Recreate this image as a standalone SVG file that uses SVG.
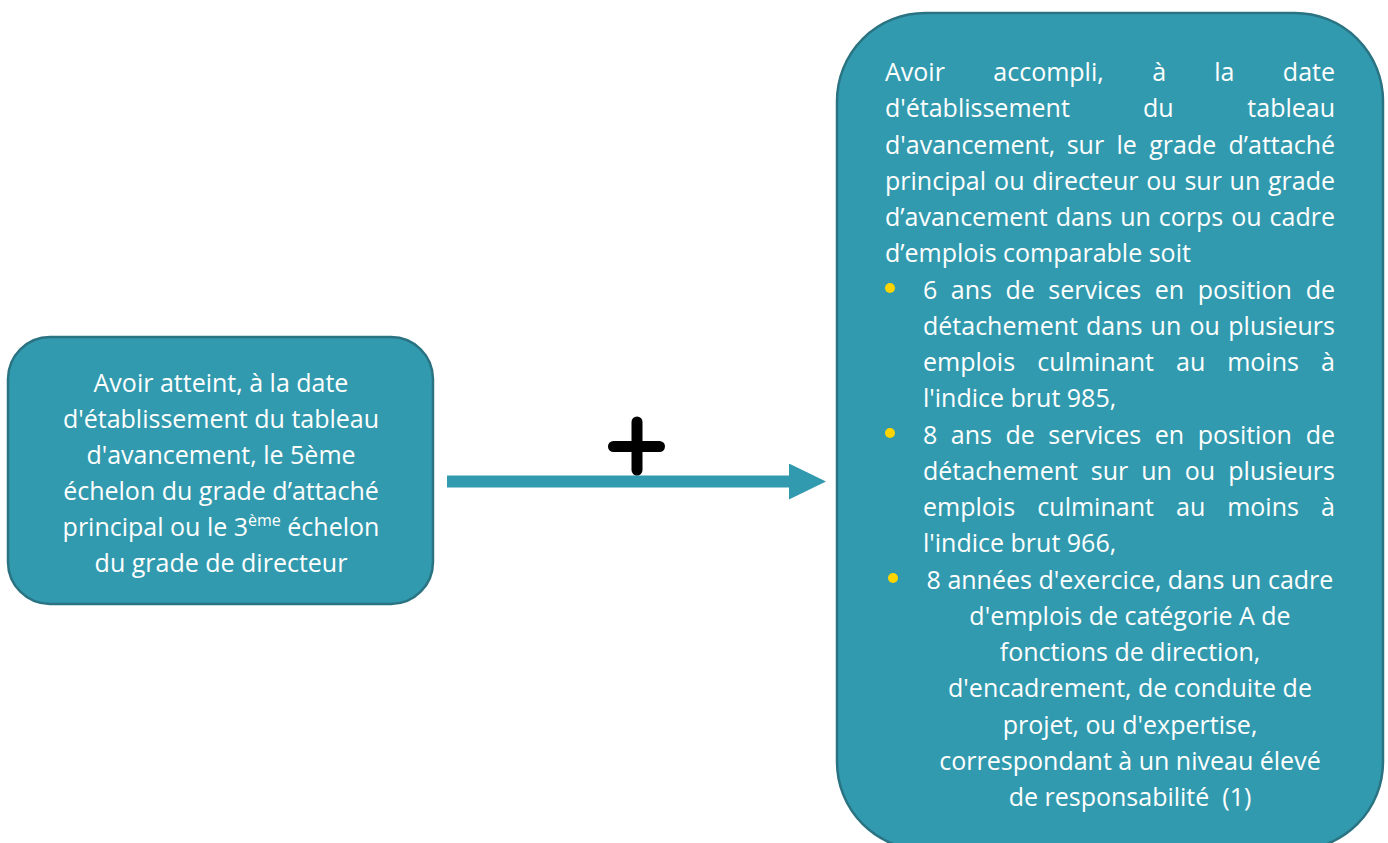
<svg xmlns="http://www.w3.org/2000/svg" width="1388" height="843" viewBox="0 0 1388 843">
<style>
.box{fill:#329aae;stroke:#2a7382;stroke-width:2.5}
.t{font-family:"Open Sans","Noto Sans",sans-serif;font-size:25px;fill:#ffffff}
.m{text-anchor:middle}
.e{text-anchor:end}
.dot{fill:#ffd500}
.conn{stroke:#329aae;stroke-width:12;fill:none}
.plus{stroke:#000000;stroke-width:11;stroke-linecap:round;fill:none}
</style>
<defs>
<marker id="ah" viewBox="0 0 37 36" markerWidth="37" markerHeight="36" markerUnits="userSpaceOnUse" refX="11" refY="18" orient="auto">
<path d="M0,0 L37,18 L0,36 Z" fill="#329aae"/>
</marker>
</defs>

<g id="connectors">
<line class="conn" x1="447" y1="481.5" x2="800" y2="481.5" marker-end="url(#ah)"/>
<g id="plus">
<line class="plus" x1="637" y1="422" x2="637" y2="470"/>
<line class="plus" x1="613.5" y1="446.5" x2="659.5" y2="446.5"/>
</g>
</g>

<g id="node-left">
<rect class="box" x="8" y="337" width="425" height="267" rx="42" ry="42"/>
<text class="t m" x="221" y="392">Avoir atteint, à la date</text>
<text class="t m" x="221" y="428">d'établissement du tableau</text>
<text class="t m" x="221" y="464">d'avancement, le 5ème</text>
<text class="t m" x="221" y="500">échelon du grade d’attaché</text>
<text class="t m" x="221" y="536">principal ou le 3<tspan font-size="16" dy="-10">ème</tspan><tspan dy="10"> échelon</tspan></text>
<text class="t m" x="221" y="572">du grade de directeur</text>
</g>

<g id="node-right">
<rect class="box" x="837" y="13" width="546" height="837" rx="88" ry="88"/>
<text class="t" y="81"><tspan x="885">Avoir</tspan><tspan x="993.3">accompli,</tspan><tspan x="1152.2">à</tspan><tspan x="1214.3">la</tspan></text>
<text class="t e" x="1335" y="81">date</text>
<text class="t" y="117.25"><tspan x="885">d'établissement</tspan><tspan x="1143">du</tspan></text>
<text class="t e" x="1335" y="117.25">tableau</text>
<text class="t" y="153.5"><tspan x="885">d'avancement,</tspan><tspan x="1066.7">sur</tspan><tspan x="1116.5">le</tspan><tspan x="1149.3">grade</tspan></text>
<text class="t e" x="1335" y="153.5">d’attaché</text>
<text class="t" y="189.75"><tspan x="885">principal</tspan><tspan x="994.1">ou</tspan><tspan x="1032.2">directeur</tspan><tspan x="1146.3">ou</tspan><tspan x="1184.4">sur</tspan><tspan x="1229.6">un</tspan></text>
<text class="t e" x="1335" y="189.75">grade</text>
<text class="t" y="226"><tspan x="885">d’avancement</tspan><tspan x="1055.8">dans</tspan><tspan x="1120.2">un</tspan><tspan x="1158.8">corps</tspan><tspan x="1231.3">ou</tspan></text>
<text class="t e" x="1335" y="226">cadre</text>
<text class="t" x="885" y="262.25">d’emplois comparable soit</text>

<circle class="dot" cx="890" cy="288" r="5"/>
<text class="t" y="298.5"><tspan x="923">6</tspan><tspan x="950.75">ans</tspan><tspan x="1005.4">de</tspan><tspan x="1048.25">services</tspan><tspan x="1154.8">en</tspan><tspan x="1197.65">position</tspan></text>
<text class="t e" x="1335" y="298.5">de</text>
<text class="t" y="334.75"><tspan x="923">détachement</tspan><tspan x="1086">dans</tspan><tspan x="1150.6">un</tspan><tspan x="1189.4">ou</tspan></text>
<text class="t e" x="1335" y="334.75">plusieurs</text>
<text class="t" y="371"><tspan x="923">emplois</tspan><tspan x="1037.35">culminant</tspan><tspan x="1176.1">au</tspan><tspan x="1227.15">moins</tspan></text>
<text class="t e" x="1335" y="371">à</text>
<text class="t" x="923" y="407.25">l'indice brut 985,</text>

<circle class="dot" cx="890" cy="433" r="5"/>
<text class="t" y="443.5"><tspan x="923">8</tspan><tspan x="950.75">ans</tspan><tspan x="1005.4">de</tspan><tspan x="1048.25">services</tspan><tspan x="1154.8">en</tspan><tspan x="1197.65">position</tspan></text>
<text class="t e" x="1335" y="443.5">de</text>
<text class="t" y="479.75"><tspan x="923">détachement</tspan><tspan x="1090.8">sur</tspan><tspan x="1141.2">un</tspan><tspan x="1184.8">ou</tspan></text>
<text class="t e" x="1335" y="479.75">plusieurs</text>
<text class="t" y="516"><tspan x="923">emplois</tspan><tspan x="1037.35">culminant</tspan><tspan x="1176.1">au</tspan><tspan x="1227.15">moins</tspan></text>
<text class="t e" x="1335" y="516">à</text>
<text class="t" x="923" y="552.25">l'indice brut 966,</text>

<circle class="dot" cx="893" cy="578" r="5"/>
<text class="t m" x="1130" y="588.5">8 années d'exercice, dans un cadre</text>
<text class="t m" x="1130" y="624.75">d'emplois de catégorie A de</text>
<text class="t m" x="1130" y="661">fonctions de direction,</text>
<text class="t m" x="1130" y="697.25">d'encadrement, de conduite de</text>
<text class="t m" x="1130" y="733.5">projet, ou d'expertise,</text>
<text class="t m" x="1130" y="769.75">correspondant à un niveau élevé</text>
<text class="t m" x="1130" y="806" xml:space="preserve">de responsabilité  (1)</text>
</g>
</svg>
